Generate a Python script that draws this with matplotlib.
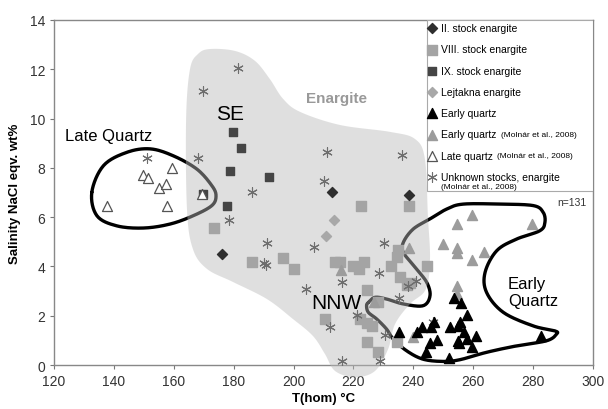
import numpy as np
import matplotlib
matplotlib.use("Agg")
import matplotlib.pyplot as plt
from matplotlib.patches import Rectangle

plt.rcParams['font.family'] = ['Liberation Sans', 'DejaVu Sans']

# II. stock enargite
ii_t = [213.0, 238.7, 176.2]
ii_s = [7.03, 6.91, 4.5]
# VIII. stock enargite
viii_t = [173.4, 186.0, 196.4, 200.0, 222.5, 238.7, 213.9, 215.5, 220.0, 222.0,
          223.7, 224.4, 232.5, 234.5, 235.0, 235.6, 238.0, 239.0, 244.5, 210.5,
          222.2, 224.4, 226.1, 224.4, 228.1, 234.5, 228.3]
viii_s = [5.56, 4.2, 4.35, 3.9, 6.44, 6.44, 4.2, 4.2, 4.03, 3.9,
          4.2, 3.06, 4.03, 4.4, 4.65, 3.56, 3.25, 3.35, 4.03, 1.87,
          1.87, 1.7, 1.6, 0.92, 0.55, 0.92, 2.54]
# IX. stock enargite
ix_t = [179.7, 182.5, 178.8, 191.7, 169.9, 177.9]
ix_s = [9.44, 8.8, 7.86, 7.61, 6.92, 6.44]
# Lejtakna enargite
lej_t = [213.6, 210.7]
lej_s = [5.88, 5.25]
# Early quartz
eq_t = [253.6, 255.9, 258.1, 242.8, 241.1, 235.2, 245.9, 246.9, 252.3, 255.0, 255.6,
        257.0, 261.0, 247.8, 245.6, 254.8, 257.8, 259.5, 244.2, 251.9, 282.6, 255.4]
eq_s = [2.72, 2.52, 2.04, 1.53, 1.35, 1.35, 1.53, 1.73, 1.53, 1.6, 1.73,
        1.35, 1.19, 1.03, 0.89, 0.99, 1.06, 0.72, 0.54, 0.28, 1.19, 0.89]
# Early quartz (Molnar et al., 2008)
eqm_t = [259.8, 254.5, 279.8, 249.8, 254.5, 254.5, 263.7, 259.7, 238.6, 254.5,
         254.5, 240.0, 215.9, 226.9]
eqm_s = [6.09, 5.72, 5.72, 4.91, 4.74, 4.55, 4.57, 4.26, 4.75, 3.22,
         2.88, 1.16, 3.87, 2.54]
# Late quartz (Molnar et al., 2008)
lq_t = [137.6, 157.6, 149.8, 151.5, 155.0, 157.4, 159.5, 169.3]
lq_s = [6.44, 6.47, 7.71, 7.57, 7.17, 7.35, 7.98, 6.96]
# Unknown stocks, enargite
unk_t = [181.4, 169.7, 211.2, 236.1, 168.2, 151.2, 186.2, 210.3, 178.4, 191.2,
         190.7, 190.3, 206.7, 204.2, 216.1, 228.6, 230.3, 212.1, 216.1, 228.8,
         221.2, 235.1, 230.5, 240.9, 238.4, 246.7]
unk_s = [12.05, 11.13, 8.65, 8.53, 8.38, 8.39, 7.04, 7.46, 5.87, 4.95,
         4.06, 4.15, 4.81, 3.07, 3.38, 3.72, 4.94, 1.54, 0.18, 0.18,
         2.05, 2.72, 1.23, 3.4, 3.22, 1.73]

# hand drawn outlines (T, S)
blob_t = [172.1, 180.5, 187.1, 192.1, 196.5, 202.2, 215.5, 232.2, 240.6, 243.9,
          244.9, 245.6, 244.2, 238.9, 233.9, 231.6, 227.2, 220.5, 213.9, 210.5,
          206.5, 199.8, 191.1, 179.8, 171.1, 166.4, 164.4, 164.1, 165.4, 168.1]
blob_s = [12.82, 12.74, 12.34, 11.6, 10.8, 10.27, 9.74, 9.46, 9.17, 8.36,
          6.05, 4.3, 3.08, 2.48, 1.66, 0.65, -0.24, -0.49, -0.24, 0.45,
          1.18, 1.87, 2.68, 3.37, 3.9, 4.7, 6.3, 9.98, 12.0, 12.62]
late_t = [132.6, 136.5, 144.3, 152.1, 159.8, 167.7, 172.7, 174.1, 172.7, 166.5,
          158.7, 149.8, 140.9, 134.3]
late_s = [7.01, 8.09, 8.63, 8.77, 8.49, 7.95, 7.28, 6.87, 6.47, 6.06,
          5.72, 5.56, 5.65, 6.06]
early_t = [225.0, 227.2, 231.1, 236.7, 243.3, 245.6, 244.5, 240.6, 236.7, 236.7,
           240.0, 245.6, 251.2, 256.7, 269.0, 280.1, 283.4, 284.0, 282.3, 274.5,
           267.9, 264.0, 264.5, 270.1, 280.1, 287.3, 287.9, 284.6, 274.5, 264.5,
           255.6, 250.0, 243.3, 237.8, 233.3, 231.1, 227.8, 225.0, 224.4]
early_s = [2.54, 2.75, 2.68, 2.48, 2.41, 2.81, 3.36, 3.97, 4.57, 4.98,
           5.52, 5.93, 6.33, 6.53, 6.53, 6.47, 6.2, 5.79, 5.45, 5.11,
           4.64, 3.76, 2.95, 2.14, 1.59, 1.39, 1.26, 0.99, 0.78, 0.52,
           0.22, 0.15, 0.24, 0.58, 1.06, 1.46, 1.87, 2.14, 2.41]


def smooth_closed(xs, ys, n=16):
    pts = np.column_stack([xs, ys])
    m = len(pts)
    t = np.linspace(0, 1, n, endpoint=False)[:, None]
    out = []
    for i in range(m):
        p0, p1, p2, p3 = pts[(i - 1) % m], pts[i], pts[(i + 1) % m], pts[(i + 2) % m]
        out.append(0.5 * (2 * p1 + (-p0 + p2) * t + (2 * p0 - 5 * p1 + 4 * p2 - p3) * t ** 2
                          + (-p0 + 3 * p1 - 3 * p2 + p3) * t ** 3))
    out = np.vstack(out + [out[0][:1]])
    return out[:, 0], out[:, 1]


fig = plt.figure(figsize=(6.08, 4.10), dpi=100)
ax = fig.add_axes([0.089, 0.107, 0.886, 0.842])

# outlines, then the translucent enargite field over them
x, y = smooth_closed(late_t, late_s)
ax.plot(x, y, color='black', lw=2.4, zorder=2, solid_capstyle='round')
x, y = smooth_closed(early_t, early_s)
ax.plot(x, y, color='black', lw=2.4, zorder=2, solid_capstyle='round')
x, y = smooth_closed(blob_t, blob_s)
ax.fill(x, y, color='#bababa', alpha=0.45, lw=0, zorder=3, clip_on=False)

ax.scatter(ii_t, ii_s, marker='D', s=26, color='#2e2e2e', zorder=5, label='II. stock enargite')
ax.scatter(viii_t, viii_s, marker='s', s=48, color='#a4a4a4', zorder=4, label='VIII. stock enargite')
ax.scatter(ix_t, ix_s, marker='s', s=40, color='#454545', zorder=5, label='IX. stock enargite')
ax.scatter(lej_t, lej_s, marker='D', s=26, color='#a8a8a8', zorder=5, label='Lejtakna enargite')
ax.scatter(eq_t, eq_s, marker='^', s=52, color='black', zorder=6, label='Early quartz')
ax.scatter(eqm_t, eqm_s, marker='^', s=52, color='#9c9c9c', zorder=5, label='Early quartz')
ax.scatter(lq_t, lq_s, marker='^', s=52, facecolor='white', edgecolor='#555555', lw=0.9,
           zorder=5, label='Late quartz')
ax.scatter(unk_t, unk_s, marker=(6, 2, 0), s=48, color='#6e6e6e', lw=0.8, zorder=5,
           label='Unknown stocks, enargite')

ax.text(123.7, 9.3, 'Late Quartz', fontsize=12, ha='left', va='center', zorder=7)
ax.text(178.8, 10.2, 'SE', fontsize=15, ha='center', va='center', zorder=7)
ax.text(214.4, 10.84, 'Enargite', fontsize=11, fontweight='bold', color='#999999',
        ha='center', va='center', zorder=7)
ax.text(214.4, 2.54, 'NNW', fontsize=15, ha='center', va='center', zorder=7)
ax.text(271.7, 2.98, 'Early\nQuartz', fontsize=12, ha='left', va='center', zorder=7,
        linespacing=1.15)
ax.text(297.8, 6.6, 'n=131', fontsize=7.5, ha='right', va='center', color='#333333', zorder=7)

ax.set_xlim(120, 300)
ax.set_ylim(0, 14)
ax.set_xticks(np.arange(120, 301, 20))
ax.set_yticks(np.arange(0, 15, 2))
ax.tick_params(direction='out', length=3, width=0.8, colors='#777777', labelcolor='#333333',
               labelsize=10)
for sp in ax.spines.values():
    sp.set_color('#888888')
    sp.set_linewidth(1.0)
ax.set_xlabel('T(hom) °C', fontsize=9.5, fontweight='bold', labelpad=3)
ax.set_ylabel('Salinity NaCl eqv. wt%', fontsize=9.5, fontweight='bold', labelpad=6)

# legend box
ax.add_patch(Rectangle((0.692, 0.504), 0.308, 0.496, transform=ax.transAxes, facecolor='white',
                       edgecolor='#aaaaaa', lw=0.8, zorder=8))
leg = ax.legend(loc='upper left', bbox_to_anchor=(0.688, 1.0), frameon=False, fontsize=7.5,
                handlelength=0.8, handletextpad=0.5, borderpad=0.3, borderaxespad=0,
                labelspacing=1.08, scatterpoints=1)
leg.set_zorder(9)
txts = leg.get_texts()
ax.annotate('(Molnár et al., 2008)', xy=(1, 0.5), xycoords=txts[5], xytext=(3, 0),
            textcoords='offset points', fontsize=6, va='center', zorder=10)
ax.annotate('(Molnár et al., 2008)', xy=(1, 0.5), xycoords=txts[6], xytext=(3, 0),
            textcoords='offset points', fontsize=6, va='center', zorder=10)
ax.annotate('(Molnár et al., 2008)', xy=(0, 0), xycoords=txts[7], xytext=(0, -1),
            textcoords='offset points', fontsize=6, va='top', zorder=10)

fig.savefig('out.png', dpi=100)
